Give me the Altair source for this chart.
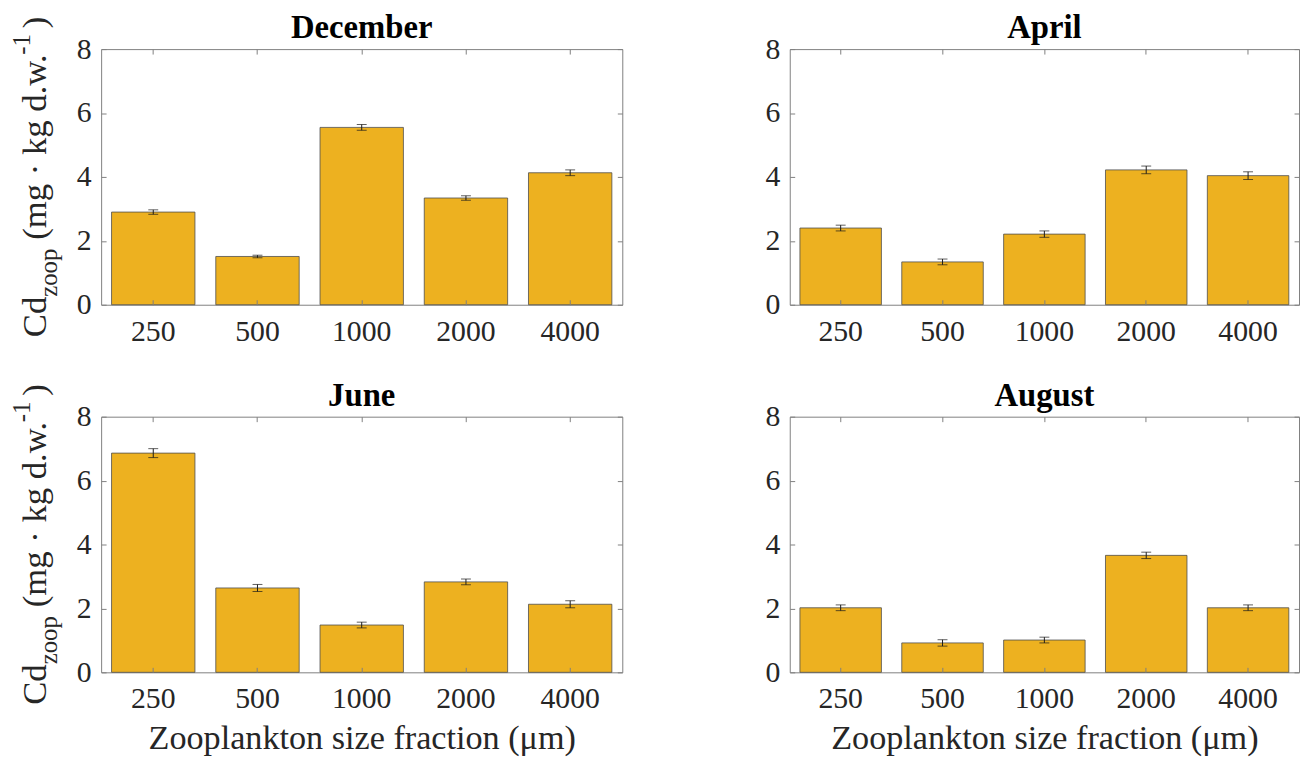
import altair as alt
import pandas as pd

sizes = ["250", "500", "1000", "2000", "4000"]
months = ["December", "April", "June", "August"]

dec_mean = [2.90, 1.51, 5.55, 3.34, 4.13]
dec_err = [0.07, 0.04, 0.09, 0.07, 0.09]
apr_mean = [2.40, 1.34, 2.21, 4.22, 4.04]
apr_err = [0.09, 0.09, 0.10, 0.12, 0.12]
jun_mean = [6.86, 2.64, 1.48, 2.83, 2.13]
jun_err = [0.14, 0.11, 0.09, 0.09, 0.11]
aug_mean = [2.02, 0.92, 1.01, 3.66, 2.02]
aug_err = [0.09, 0.10, 0.09, 0.10, 0.09]

y_ticks = [0, 2, 4, 6, 8]
x_title = "Zooplankton size fraction (μm)"

FONT = "Liberation Serif"
BAR = "#EDB120"
EDGE = "#4d4d4d"
BOX = "#808080"
TXT = "#262626"
H = 258

# approximate Times/Liberation Serif advance widths (em) for y-label layout
W = {"C": .667, "d": .5, "z": .444, "o": .5, "p": .5, " ": .25, "(": .333, "m": .778,
     "g": .5, "·": .25, "k": .5, ".": .25, "w": .722, "-": .333, "1": .5, ")": .333}


def tw(s, fs):
    return sum(W.get(c, .5) for c in s) * fs


one = pd.DataFrame({"a": [0]})


def ylabel_layers():
    F, Fs = 35, 25
    # (text, font size, baseline x, gap before)
    pieces = [("Cd", F, -56, 0), ("zoop", Fs, -45, 0), ("(mg · kg d.w.", F, -56, 9),
              ("-1", Fs, -72, 0), (")", F, -56, 6)]
    total = sum(tw(t, f) + g for t, f, _, g in pieces)
    y = 129 + total / 2
    layers = []
    for t, f, bx, g in pieces:
        y -= g
        layers.append(
            alt.Chart(one).mark_text(font=FONT, fontSize=f, angle=270, align="left",
                                     baseline="alphabetic", color=TXT)
            .encode(x=alt.value(bx), y=alt.value(y), text=alt.value(t))
        )
        y -= tw(t, f)
    return layers


def panel(month, means, errs, ytitle, xtitle, width):
    df = pd.DataFrame({"size": sizes, "mean": means, "err": errs})
    base = alt.Chart(df).transform_calculate(
        lo="datum.mean - datum.err", hi="datum.mean + datum.err"
    )
    xs = alt.Scale(domain=sizes, paddingInner=0.2, paddingOuter=0.1)
    ys = alt.Scale(domain=[0, 8], nice=False)

    bars = base.mark_bar(color=BAR, stroke=EDGE, strokeWidth=0.8).encode(
        x=alt.X("size:N", sort=sizes, scale=xs,
                axis=alt.Axis(orient="bottom", labelAngle=0, ticks=False, domain=False,
                              labelFontSize=30, labelPadding=12,
                              title=x_title if xtitle else None, titleFontSize=34.5,
                              titleFontWeight="normal", titlePadding=8)),
        y=alt.Y("mean:Q", scale=ys,
                axis=alt.Axis(orient="left", values=y_ticks, ticks=False, domain=False,
                              labelFontSize=30, labelPadding=10, title=None)),
    )
    stems = base.mark_rule(color="#1a1a1a", strokeWidth=1).encode(
        x=alt.X("size:N", sort=sizes, scale=xs,
                axis=alt.Axis(orient="bottom", offset=-5, labels=False, domain=False,
                              tickSize=5, tickColor=BOX, title=None, zindex=1)),
        y=alt.Y("lo:Q", scale=ys,
                axis=alt.Axis(orient="left", offset=-5, labels=False, domain=False,
                              tickSize=5, tickColor=BOX, values=y_ticks, title=None, zindex=1)),
        y2="hi:Q",
    )
    cap_lo = base.mark_tick(color="#1a1a1a", size=10, thickness=1).encode(
        x=alt.X("size:N", sort=sizes, scale=xs,
                axis=alt.Axis(orient="top", offset=-5, labels=False, domain=False,
                              tickSize=5, tickColor=BOX, title=None, zindex=1)),
        y=alt.Y("lo:Q", scale=ys,
                axis=alt.Axis(orient="right", offset=-5, labels=False, domain=False,
                              tickSize=5, tickColor=BOX, values=y_ticks, title=None, zindex=1)),
    )
    cap_hi = base.mark_tick(color="#1a1a1a", size=10, thickness=1).encode(
        x=alt.X("size:N", sort=sizes, scale=xs, axis=None),
        y=alt.Y("hi:Q", scale=ys, axis=None),
    )
    title = alt.Chart(one).mark_text(
        font=FONT, fontSize=33, fontWeight="bold", color="black",
        align="center", baseline="alphabetic"
    ).encode(x=alt.value(width / 2), y=alt.value(-11), text=alt.value(month))
    layers = [bars, stems, cap_lo, cap_hi, title]
    if ytitle:
        layers += ylabel_layers()
    return alt.layer(*layers).resolve_axis(x="independent", y="independent").properties(
        width=width, height=H,
    )


p1 = panel("December", dec_mean, dec_err, True, False, 526)
p2 = panel("April", apr_mean, apr_err, False, False, 514)
p3 = panel("June", jun_mean, jun_err, True, True, 526)
p4 = panel("August", aug_mean, aug_err, False, True, 514)

chart = alt.vconcat(
    alt.hconcat(p1, p2, spacing=142),
    alt.hconcat(p3, p4, spacing=142),
    spacing=32,
).properties(
    padding={"left": 1, "top": 0, "right": 0, "bottom": 0}
).configure_axis(
    labelFont=FONT, titleFont=FONT, labelColor=TXT, titleColor=TXT, grid=False
).configure_view(stroke=BOX, strokeWidth=1)

chart.save("out.html", embed_options={"renderer": "svg", "actions": False})
